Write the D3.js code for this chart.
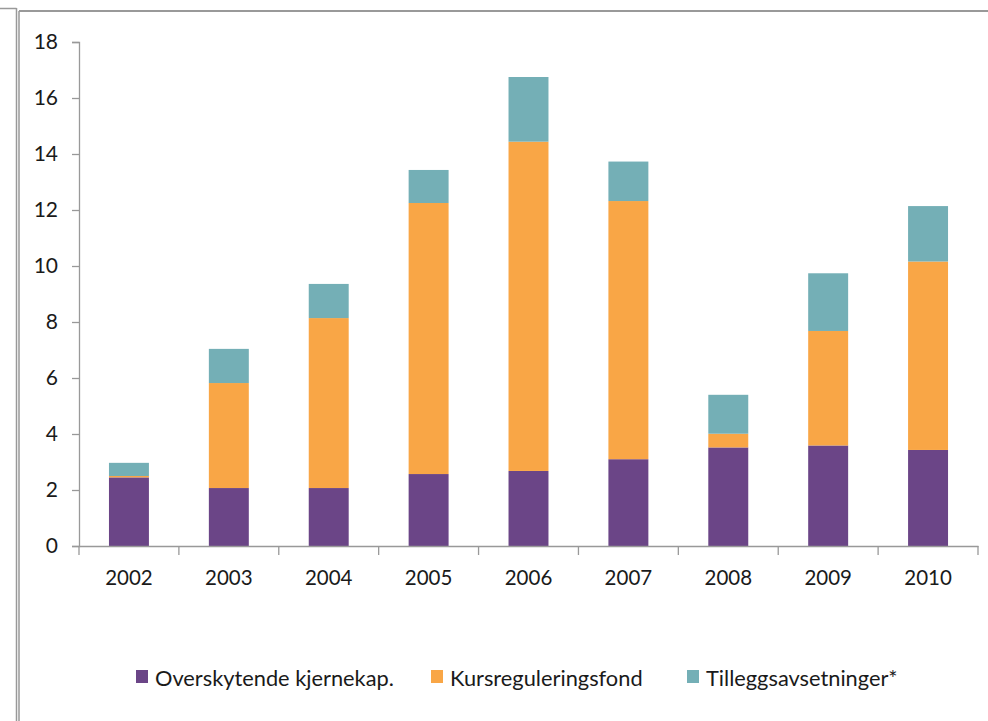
<!DOCTYPE html>
<html><head><meta charset="utf-8">
<script src="https://cdn.jsdelivr.net/npm/d3@7"></script>
<style>
body{margin:0;background:#fff;}
svg text{font-family:Lato,"Open Sans",sans-serif;fill:#1a1a1a;}
</style></head>
<body><svg id="c" width="988" height="721"></svg>
<script>
const years = ["2002","2003","2004","2005","2006","2007","2008","2009","2010"];
const seriesNames = ["Overskytende kjernekap.","Kursreguleringsfond","Tilleggsavsetninger*"];
const overskytende = [2.45,2.07,2.07,2.57,2.68,3.10,3.52,3.59,3.43];
const kursregulering = [0.05,3.75,6.07,9.68,11.76,9.22,0.49,4.09,6.73];
const tillegg = [0.47,1.22,1.22,1.18,2.31,1.41,1.39,2.06,1.98];
const yTicks = [0,2,4,6,8,10,12,14,16,18];
const colors = ["#6B4587","#F9A646","#74AFB6"];

const svg = d3.select("#c");
// frame
svg.append("line").attr("x1",16.5).attr("x2",16.5).attr("y1",8).attr("y2",721).attr("stroke","#999").attr("stroke-width",1.5);
svg.append("line").attr("x1",19).attr("x2",19).attr("y1",11).attr("y2",721).attr("stroke","#999").attr("stroke-width",1.5);
svg.append("line").attr("x1",0).attr("x2",16.5).attr("y1",8.5).attr("y2",8.5).attr("stroke","#999").attr("stroke-width",1.5);
svg.append("line").attr("x1",19).attr("x2",988).attr("y1",11).attr("y2",11).attr("stroke","#999").attr("stroke-width",2);

const x = d3.scaleBand().domain(years).range([79,978]).paddingInner(0.6).paddingOuter(0.3);
const y = d3.scaleLinear().domain([0,18]).range([546,42]);

const data = years.map((yr,i)=>({year:yr, s0:overskytende[i], s1:kursregulering[i], s2:tillegg[i]}));
const stack = d3.stack().keys(["s0","s1","s2"])(data);

svg.append("g").selectAll("g").data(stack).join("g").attr("fill",(d,i)=>colors[i])
  .selectAll("rect").data(d=>d).join("rect")
  .attr("x",d=>x(d.data.year)).attr("width",x.bandwidth())
  .attr("y",d=>y(d[1])).attr("height",d=>y(d[0])-y(d[1]));

// y axis
const ya = svg.append("g").attr("transform","translate(79,0)")
  .call(d3.axisLeft(y).tickValues(yTicks).tickSize(7).tickPadding(14));
ya.selectAll("path,line").attr("stroke","#999").attr("stroke-width",1.3);
ya.selectAll("text").attr("font-size",21).style("font-family","Lato,sans-serif").attr("fill","#1a1a1a");

// x axis
const xb = d3.scaleBand().domain(years).range([79,978]);
const xa = svg.append("g").attr("transform","translate(0,546)")
  .call(d3.axisBottom(xb).tickSize(0).tickPadding(24).tickSizeOuter(0));
xa.select("path").attr("stroke","#999").attr("stroke-width",1.3);
xa.selectAll("text").attr("font-size",20.5).style("font-family","Lato,sans-serif").attr("fill","#1a1a1a");
// category boundary ticks
const bounds = [79].concat(years.map(yr=>xb(yr)+xb.bandwidth()));
svg.append("g").selectAll("line").data(bounds).join("line")
  .attr("x1",d=>d).attr("x2",d=>d).attr("y1",546).attr("y2",555)
  .attr("stroke","#999").attr("stroke-width",1.3);

// legend
const legX = [136,431,687];
const lg = svg.append("g");
seriesNames.forEach((n,i)=>{
  lg.append("rect").attr("x",legX[i]).attr("y",670).attr("width",12).attr("height",13).attr("fill",colors[i]);
  lg.append("text").attr("x",legX[i]+19).attr("y",685.5).attr("font-size",21.8).text(n);
});
</script></body></html>
